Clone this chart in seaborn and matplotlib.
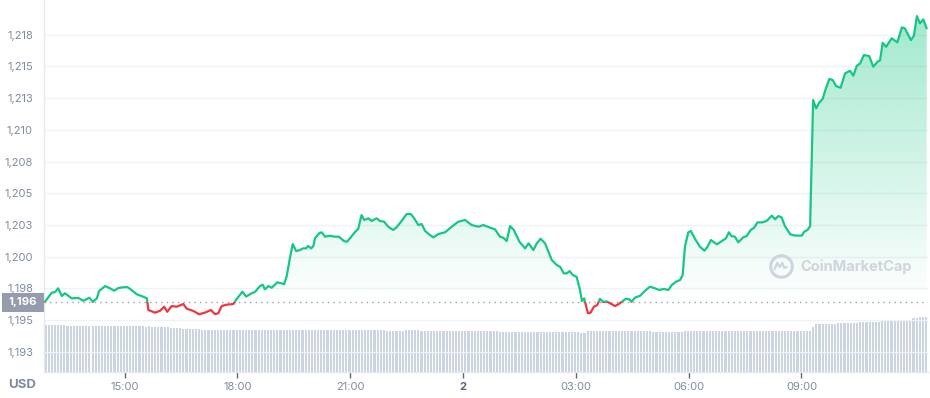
import numpy as np
import matplotlib
matplotlib.use("Agg")
import matplotlib.pyplot as plt
import matplotlib.transforms as mtransforms
from matplotlib.colors import to_rgb
from matplotlib.patches import Rectangle, PathPatch
from matplotlib.path import Path
import seaborn as sns

# ---------------- data ----------------
# time in hours since midnight of day 1 (24 = midnight of day 2)
hours = [
    12.88, 13.06, 13.15, 13.23, 13.33, 13.41, 13.59, 13.77, 13.90, 14.06,
    14.15, 14.26, 14.32, 14.48, 14.61, 14.72, 14.83, 14.95, 15.07, 15.16,
    15.32, 15.45, 15.59, 15.63, 15.81, 15.94, 16.05, 16.13, 16.25, 16.38,
    16.56, 16.65, 16.83, 16.98, 17.16, 17.29, 17.40, 17.49, 17.58, 17.71,
    17.89, 17.98, 18.13, 18.23, 18.38, 18.47, 18.60, 18.67, 18.73, 18.82,
    18.91, 19.06, 19.18, 19.24, 19.31, 19.40, 19.47, 19.56, 19.66, 19.74,
    19.82, 19.88, 19.96, 20.02, 20.06, 20.17, 20.24, 20.33, 20.46, 20.59,
    20.70, 20.83, 20.91, 20.99, 21.13, 21.21, 21.30, 21.37, 21.48, 21.57,
    21.70, 21.79, 21.90, 22.01, 22.14, 22.23, 22.37, 22.50, 22.61, 22.70,
    22.81, 22.90, 22.99, 23.12, 23.21, 23.34, 23.52, 23.70, 23.87, 24.05,
    24.23, 24.41, 24.54, 24.72, 24.85, 24.98, 25.07, 25.16, 25.25, 25.35,
    25.50, 25.65, 25.74, 25.87, 25.96, 26.06, 26.18, 26.36, 26.49, 26.58,
    26.68, 26.76, 26.83, 26.92, 27.02, 27.11, 27.16, 27.22, 27.32, 27.39,
    27.48, 27.57, 27.64, 27.73, 27.82, 27.91, 28.04, 28.13, 28.22, 28.33,
    28.42, 28.48, 28.57, 28.71, 28.84, 28.97, 29.10, 29.22, 29.34, 29.46,
    29.55, 29.66, 29.77, 29.84, 29.90, 29.99, 30.06, 30.17, 30.30, 30.42,
    30.50, 30.59, 30.75, 30.88, 30.99, 31.07, 31.14, 31.23, 31.32, 31.45,
    31.54, 31.65, 31.74, 31.83, 31.96, 32.08, 32.21, 32.30, 32.38, 32.47,
    32.56, 32.70, 32.83, 33.01, 33.07, 33.16, 33.23, 33.31, 33.39, 33.47,
    33.56, 33.65, 33.74, 33.83, 33.92, 34.04, 34.16, 34.29, 34.38, 34.47,
    34.56, 34.66, 34.80, 34.91, 35.02, 35.09, 35.16, 35.25, 35.40, 35.55,
    35.67, 35.75, 35.91, 35.99, 36.07, 36.15, 36.24, 36.33,
]
prices = [
    1196.44, 1197.15, 1197.21, 1197.50, 1196.89, 1197.11, 1196.71, 1196.74, 1196.52, 1196.76,
    1196.44, 1196.71, 1197.29, 1197.68, 1197.50, 1197.31, 1197.52, 1197.58, 1197.60, 1197.42,
    1197.03, 1196.89, 1196.71, 1195.79, 1195.58, 1195.73, 1196.05, 1195.65, 1196.10, 1196.05,
    1196.26, 1195.89, 1195.71, 1195.45, 1195.61, 1195.79, 1195.47, 1195.53, 1196.10, 1196.21,
    1196.26, 1196.66, 1197.23, 1196.85, 1197.11, 1197.23, 1197.68, 1197.78, 1197.42, 1197.68,
    1197.55, 1197.97, 1197.89, 1197.82, 1198.47, 1199.99, 1200.99, 1200.44, 1200.52, 1200.65,
    1200.65, 1200.84, 1200.65, 1200.84, 1201.44, 1201.84, 1201.92, 1201.57, 1201.65, 1201.57,
    1201.57, 1201.23, 1201.17, 1201.44, 1201.96, 1202.18, 1203.28, 1202.89, 1203.02, 1202.81,
    1203.02, 1202.81, 1202.75, 1202.36, 1202.10, 1202.31, 1202.83, 1203.36, 1203.36, 1203.02,
    1202.49, 1202.57, 1202.02, 1201.70, 1201.52, 1201.78, 1201.92, 1202.36, 1202.75, 1202.89,
    1202.49, 1202.36, 1202.49, 1202.28, 1202.15, 1201.57, 1201.49, 1201.23, 1202.41, 1202.10,
    1201.17, 1200.65, 1201.05, 1200.52, 1201.05, 1201.41, 1201.05, 1199.73, 1199.34, 1199.20,
    1198.68, 1198.68, 1198.86, 1198.55, 1198.41, 1197.37, 1196.50, 1196.71, 1195.53, 1195.58,
    1196.05, 1196.18, 1196.67, 1196.42, 1196.47, 1196.32, 1196.10, 1196.24, 1196.44, 1196.68,
    1196.63, 1196.44, 1196.76, 1196.92, 1197.31, 1197.63, 1197.50, 1197.37, 1197.45, 1197.37,
    1197.76, 1198.02, 1198.15, 1198.55, 1200.78, 1201.92, 1202.02, 1201.39, 1200.78, 1200.47,
    1200.78, 1201.31, 1200.97, 1201.23, 1201.44, 1201.92, 1201.62, 1201.57, 1201.13, 1201.52,
    1201.62, 1202.10, 1202.28, 1202.70, 1202.70, 1202.83, 1203.23, 1202.94, 1203.20, 1203.10,
    1202.41, 1201.76, 1201.66, 1201.66, 1201.96, 1202.10, 1202.41, 1212.35, 1211.69, 1212.14,
    1212.43, 1213.27, 1214.01, 1213.93, 1213.45, 1213.32, 1214.45, 1214.66, 1214.27, 1215.05,
    1215.24, 1215.90, 1215.82, 1214.98, 1215.37, 1215.48, 1216.87, 1216.55, 1217.22, 1216.90,
    1218.08, 1218.00, 1217.08, 1217.42, 1218.97, 1218.40, 1218.71, 1218.00,
]
open_price = 1196.42
open_label = "1,196"

# relative volume, one bar per 5 minutes (12 per row = one hour)
volume = [
    4.7, 4.7, 4.7, 4.7, 4.7, 4.7, 4.7, 4.6, 4.6, 4.6, 4.6, 4.6,
    4.6, 4.6, 4.6, 4.6, 4.6, 4.6, 4.6, 4.6, 4.6, 4.6, 4.6, 4.6,
    4.6, 4.6, 4.6, 4.6, 4.6, 4.6, 4.6, 4.6, 4.55, 4.6, 4.55, 4.5,
    4.5, 4.5, 4.5, 4.5, 4.4, 4.4, 4.4, 4.4, 4.3, 4.3, 4.3, 4.3,
    4.3, 4.3, 4.2, 4.2, 4.2, 4.2, 4.2, 4.2, 4.2, 4.2, 4.2, 4.2,
    4.2, 4.2, 4.2, 4.2, 4.2, 4.2, 4.2, 4.2, 4.2, 4.2, 4.2, 4.2,
    4.2, 4.2, 4.2, 4.2, 4.2, 4.2, 4.2, 4.2, 4.2, 4.2, 4.2, 4.2,
    4.2, 4.2, 4.2, 4.2, 4.2, 4.2, 4.2, 4.2, 4.2, 4.2, 4.2, 4.2,
    4.2, 4.2, 4.2, 4.2, 4.2, 4.2, 4.2, 4.2, 4.2, 4.2, 4.2, 4.2,
    4.2, 4.1, 4.1, 4.1, 4.1, 4.1, 4.1, 4.2, 4.2, 4.2, 4.2, 4.2,
    4.1, 4.1, 4.1, 4.1, 4.1, 4.1, 4.1, 4.1, 4.1, 4.1, 4.1, 4.1,
    4.1, 4.1, 4.1, 4.1, 4.1, 4.1, 4.1, 4.1, 4.1, 4.1, 4.1, 4.1,
    4.1, 4.05, 4.05, 4.05, 4.05, 4.05, 4.05, 4.05, 4.05, 4.05, 4.05, 4.05,
    4.05, 4.05, 4.05, 4.05, 4.05, 4.05, 4.05, 4.05, 4.05, 4.05, 4.05, 4.05,
    4.05, 4.05, 4.05, 3.95, 3.95, 4.1, 4.1, 4.1, 4.1, 4.1, 4.1, 4.1,
    4.1, 4.1, 4.1, 4.1, 4.1, 4.1, 4.1, 4.1, 4.1, 4.1, 4.1, 4.1,
    4.1, 4.1, 4.05, 4.05, 4.05, 4.05, 4.05, 4.05, 4.05, 4.05, 4.05, 4.05,
    4.15, 4.15, 4.15, 4.15, 4.15, 4.15, 4.15, 4.15, 4.15, 4.15, 4.15, 4.15,
    4.15, 4.15, 4.15, 4.15, 4.15, 4.15, 4.15, 4.15, 4.15, 4.15, 4.15, 4.15,
    4.15, 4.15, 4.15, 4.15, 4.15, 4.15, 4.15, 4.15, 4.15, 4.15, 4.15, 4.15,
    4.15, 4.15, 4.15, 4.15, 4.15, 4.5, 4.8, 4.8, 4.8, 4.8, 4.8, 4.8,
    4.8, 4.93, 4.93, 4.93, 4.93, 4.93, 4.93, 4.93, 5.03, 5.03, 5.03, 5.03,
    5.03, 5.03, 5.03, 5.13, 5.13, 5.13, 5.13, 5.13, 5.2, 5.2, 5.2, 5.2,
    5.2, 5.37, 5.37, 5.55, 5.55, 5.55,
]

x_tick_hours = [15, 18, 21, 24, 27, 30, 33]
x_tick_labels = ["15:00", "18:00", "21:00", "2", "03:00", "06:00", "09:00"]
y_ticks = [1192.5, 1195, 1197.5, 1200, 1202.5, 1205, 1207.5, 1210, 1212.5, 1215, 1217.5]
y_tick_labels = ["1,193", "1,195", "1,198", "1,200", "1,203", "1,205",
                 "1,208", "1,210", "1,213", "1,215", "1,218"]

# ---------------- style ----------------
GREEN = "#16c784"
RED = "#ea3943"
GRID = "#eff2f5"
LABEL = "#808a9d"
BAR = "#cdd4e1"

sns.set_theme(style="white")
plt.rcParams["font.family"] = ["Inter", "DejaVu Sans"]

x_min, x_max = 12.854, 36.365
y_min, y_max = 1190.90, 1220.24

fig = plt.figure(figsize=(9.3, 3.98), dpi=100)
fig.patch.set_facecolor("white")
ax = fig.add_axes([44 / 930, 26 / 398, 884 / 930, 372 / 398])
ax2 = ax.twinx()
ax2.set_zorder(0)
ax.set_zorder(1)
ax.patch.set_visible(False)

# ---------------- volume bars ----------------
bar_hours = x_min + (np.arange(len(volume)) + 0.5) / 12
sns.barplot(x=bar_hours, y=volume, native_scale=True, width=0.68, color=BAR,
            saturation=1, errorbar=None, linewidth=0, ax=ax2)
ax2.set_ylim(0, 37.2)
ax2.set_yticks([])
ax2.set_ylabel("")
for s in ax2.spines.values():
    s.set_visible(False)

# ---------------- gradient fills ----------------
poly = ax.fill_between(hours, prices, open_price, color="none", lw=0)
clip_path = Path.make_compound_path(*poly.get_paths())

g = np.zeros((256, 1, 4))
g[..., :3] = to_rgb(GREEN)
g[..., 3] = np.linspace(0.0, 0.42, 256)[:, None]
im_g = ax.imshow(g, extent=[x_min, x_max, open_price, y_max], origin="lower",
                 aspect="auto", interpolation="bilinear", zorder=1)
im_g.set_clip_path(PathPatch(clip_path, transform=ax.transData))

r = np.zeros((256, 1, 4))
r[..., :3] = to_rgb(RED)
r[..., 3] = np.linspace(0.12, 0.0, 256)[:, None]
im_r = ax.imshow(r, extent=[x_min, x_max, y_min, open_price], origin="lower",
                 aspect="auto", interpolation="bilinear", zorder=1)
im_r.set_clip_path(PathPatch(clip_path, transform=ax.transData))

# ---------------- price line (green above open, red below) ----------------
sns.lineplot(x=hours, y=prices, color=GREEN, lw=1.6, estimator=None, ax=ax, zorder=3)
line_up = ax.lines[-1]
line_up.set_solid_joinstyle("round")
line_up.set_clip_path(Rectangle((x_min - 1, open_price), x_max - x_min + 2,
                                y_max - open_price + 5, transform=ax.transData))
sns.lineplot(x=hours, y=prices, color=RED, lw=1.6, estimator=None, ax=ax, zorder=3)
line_dn = ax.lines[-1]
line_dn.set_solid_joinstyle("round")
line_dn.set_clip_path(Rectangle((x_min - 1, y_min - 5), x_max - x_min + 2,
                                open_price - y_min + 5, transform=ax.transData))

# open price dotted line + label box
ax.axhline(open_price, color="#9aa1ad", lw=1, ls=(0, (1, 3)), zorder=2)
blend = mtransforms.blended_transform_factory(ax.transAxes, ax.transData)
ax.add_patch(Rectangle((-42 / 884, open_price - 0.75), 42 / 884, 1.5,
                       transform=blend, facecolor="#959cab", edgecolor="none",
                       clip_on=False, zorder=5))
ax.text(-21 / 884, open_price, open_label, transform=blend, ha="center", va="center",
        color="white", fontsize=8.2, fontweight="bold", zorder=6, clip_on=False)

# ---------------- axes ----------------
ax.set_xlim(x_min, x_max)
ax.set_ylim(y_min, y_max)
ax.set_yticks(y_ticks, y_tick_labels)
ax.set_xticks(x_tick_hours, x_tick_labels)
ax.yaxis.grid(True, color=GRID, lw=1)
ax.xaxis.grid(False)
ax.tick_params(axis="y", length=0, pad=8, labelcolor=LABEL, labelsize=8)
ax.tick_params(axis="x", length=4, width=1, color="#58667e", direction="out",
               pad=3, labelcolor=LABEL, labelsize=8, bottom=True)
ax.get_xticklabels()[3].set_fontweight("bold")
ax.get_xticklabels()[3].set_color("#58667e")
ax.set_xlabel("")
ax.set_ylabel("")
for name, s in ax.spines.items():
    if name in ("left", "bottom"):
        s.set_visible(True)
        s.set_color("#e6e9ee")
        s.set_linewidth(1)
    else:
        s.set_visible(False)

fig.text(22 / 930, 13 / 398, "USD", ha="center", va="center", color=LABEL,
         fontsize=9.5, fontweight="bold")

# watermark
WM = "#cfd4de"
ax.text(0.8552, 0.283, "CoinMarketCap", transform=ax.transAxes, ha="left", va="center",
        color=WM, fontsize=10.5, fontweight="bold", zorder=2)
ax.plot([0.8334], [0.285], marker="o", markersize=15.5, markerfacecolor="none",
        markeredgecolor=WM, markeredgewidth=2.2, transform=ax.transAxes, zorder=2)
wx = [-6, -3.5, -1, 1.5, 3.5, 6]
wy = [-3, 3, -1, 3, -2, -1]
ax.plot([0.8334 + v / 884 for v in wx], [0.285 + v / 372 for v in wy], color=WM,
        lw=1.6, transform=ax.transAxes, zorder=2, solid_joinstyle="round")

fig.savefig("out.png", dpi=100, facecolor="white")
